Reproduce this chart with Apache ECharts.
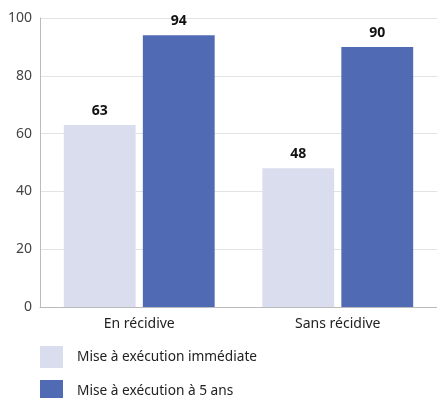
<!DOCTYPE html>
<html>
<head>
<meta charset="utf-8">
<script src="https://cdn.jsdelivr.net/npm/echarts@6/dist/echarts.min.js"></script>
<style>
  html, body { margin: 0; padding: 0; background: #fff; }
  #chart { width: 437px; height: 398px; }
</style>
</head>
<body>
<div id="chart"></div>
<script>
// categories and values
let categories = ['En récidive', 'Sans récidive'];
let immediate = [63, 48];
let fiveYears = [94, 90];
let seriesNames = ['Mise à exécution immédiate', 'Mise à exécution à 5 ans'];

let font = 'Noto Sans';

let chart = echarts.init(document.getElementById('chart'));

// one legend per row so the bottom one doesn't wrap into a second column
let legendRow = (name, top) => {
  return {
    orient: 'vertical',
    left: 40,
    top: top,
    padding: 0,
    itemWidth: 23,
    itemHeight: 22,
    icon: 'rect',
    textStyle: { fontSize: 13.7, color: '#222', padding: [0, 0, 0, 9] },
    data: [name]
  };
}

let labelStyle = { show: true, position: 'top', fontSize: 14, fontWeight: 'bold', color: '#111', distance: 7 };

let options = {
  animation: false,
  textStyle: { fontFamily: font },
  grid: { left: 40, right: 0, top: 18, bottom: 91 },
  legend: [legendRow(seriesNames[0], 346), legendRow(seriesNames[1], 380)],
  xAxis: {
    type: 'category',
    data: categories,
    axisLine: { lineStyle: { color: '#bbb' } },
    axisTick: { show: false },
    axisLabel: { fontSize: 14, color: '#222', margin: 10 }
  },
  yAxis: {
    type: 'value',
    min: 0,
    max: 100,
    interval: 20,
    axisLine: { show: true, lineStyle: { color: '#bbb' } },
    axisLabel: { fontSize: 14, color: '#444', margin: 8 },
    splitLine: { lineStyle: { color: '#e3e3e3', width: 1 } }
  },
  series: [
    {
      name: seriesNames[0],
      type: 'bar',
      data: immediate,
      barGap: '10%',
      barCategoryGap: '24%',
      itemStyle: { color: '#dadded' },
      label: labelStyle
    },
    {
      name: seriesNames[1],
      type: 'bar',
      data: fiveYears,
      itemStyle: { color: '#506bb4' },
      label: labelStyle
    }
  ]
};

chart.setOption(options);
</script>
</body>
</html>
